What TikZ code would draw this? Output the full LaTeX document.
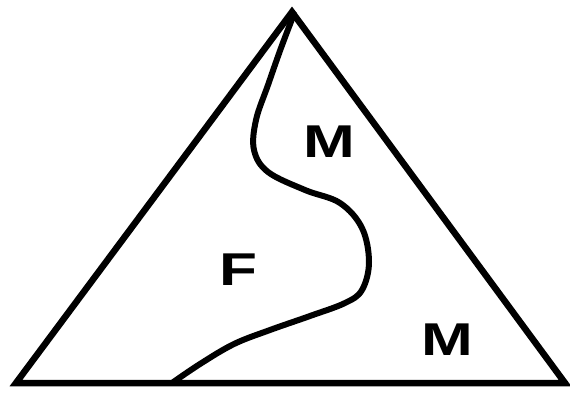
\documentclass[tikz,border=0pt]{standalone}
\usepackage{fontspec}
\setmainfont{Liberation Sans}
\begin{document}
\begin{tikzpicture}[x=1pt,y=-1pt,
  edge/.style={line width=6.5pt,line join=miter},
  border/.style={line width=6pt,line cap=round,line join=round},
  lbl/.style={font=\fontsize{46}{46}\selectfont\bfseries,inner sep=0pt,xscale=1.35,transform shape}]
\useasboundingbox (0,0) rectangle (570,395);
\coordinate (A) at (292,12);
\coordinate (B) at (16,383);
\coordinate (C) at (565,383);
\draw[edge] (A) -- (C) -- (B) -- cycle;
\coordinate (top) at (294,14);
\coordinate (foot) at (172,383);
\draw[border] plot[smooth,tension=0.6] coordinates {(294,14) (281,48) (268,85) (256,120) (254,150) (268,172) (305,190) (340,203) (362,228) (369,262) (362,290) (345,303) (310,316) (270,330) (234,344) (200,364) (172,383)};
\node[lbl] (m1) at (329,142) {M};
\node[lbl] (f) at (238,270) {F};
\node[lbl] (m2) at (447,340) {M};
\end{tikzpicture}
\end{document}
